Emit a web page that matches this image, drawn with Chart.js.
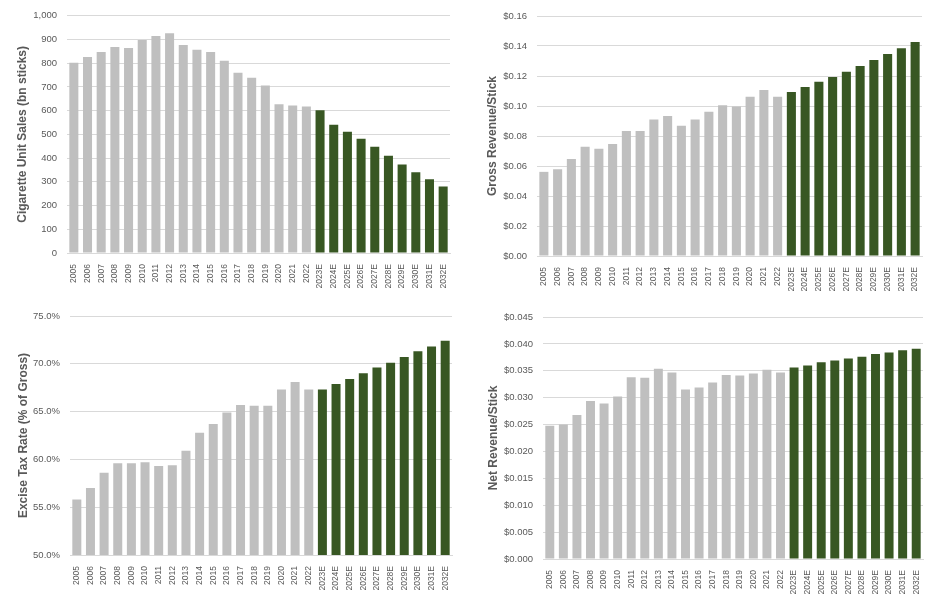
<!DOCTYPE html>
<html>
<head>
<meta charset="utf-8">
<script src="https://cdn.jsdelivr.net/npm/chart.js@4.4.0/dist/chart.umd.min.js"></script>
<style>
  body { margin: 0; background: #fff; }
  .box { position: absolute; }
</style>
</head>
<body>
<div class="box" style="left:0;top:0;width:465px;height:300px"><canvas id="c1"></canvas></div>
<div class="box" style="left:470px;top:0;width:461px;height:300px"><canvas id="c2"></canvas></div>
<div class="box" style="left:0;top:300px;width:465px;height:307px"><canvas id="c3"></canvas></div>
<div class="box" style="left:470px;top:300px;width:461px;height:307px"><canvas id="c4"></canvas></div>
<script>
const years = ["2005","2006","2007","2008","2009","2010","2011","2012","2013","2014",
  "2015","2016","2017","2018","2019","2020","2021","2022",
  "2023E","2024E","2025E","2026E","2027E","2028E","2029E","2030E","2031E","2032E"];

// bn sticks
const unitSales = [802, 826, 847, 868, 864, 898, 914, 926, 877, 856,
  847, 810, 760, 739, 706, 627, 622, 617,
  602, 540, 511, 481, 448, 410, 373, 340, 311, 280];

// $ per stick
const grossRev = [0.0561, 0.0579, 0.0646, 0.0728, 0.0715, 0.0746, 0.0834, 0.0834, 0.0910, 0.0934,
  0.0868, 0.0910, 0.0961, 0.1005, 0.0996, 0.1061, 0.1107, 0.1061,
  0.1094, 0.1127, 0.1161, 0.1194, 0.1229, 0.1267, 0.1307, 0.1347, 0.1385, 0.1427];

// % of gross
const exciseRate = [55.8, 57.0, 58.6, 59.6, 59.6, 59.7, 59.3, 59.4, 60.9, 62.8,
  63.7, 64.9, 65.7, 65.6, 65.6, 67.3, 68.1, 67.3,
  67.3, 67.9, 68.4, 69.0, 69.6, 70.1, 70.7, 71.3, 71.8, 72.4];

// $ per stick
const netRev = [0.0248, 0.0250, 0.0268, 0.0294, 0.0289, 0.0302, 0.0338, 0.0337, 0.0354, 0.0347,
  0.0315, 0.0319, 0.0328, 0.0342, 0.0341, 0.0345, 0.0352, 0.0347,
  0.0356, 0.0360, 0.0366, 0.0369, 0.0373, 0.0376, 0.0381, 0.0384, 0.0388, 0.0391];

const GRAY = "#BFBFBF";
const GREEN = "#385723";
const barColors = years.map(y => y.endsWith("E") ? GREEN : GRAY);

function makeChart(id, values, opts) {
  const ctx = document.getElementById(id).getContext("2d");
  return new Chart(ctx, {
    type: "bar",
    data: {
      labels: years,
      datasets: [{
        data: values,
        backgroundColor: barColors,
        borderWidth: 0,
        categoryPercentage: 1.0,
        barPercentage: 0.66
      }]
    },
    options: {
      responsive: true,
      maintainAspectRatio: false,
      animation: false,
      layout: { padding: { top: opts.padTop, right: opts.padRight, left: 0, bottom: 0 } },
      plugins: { legend: { display: false }, tooltip: { enabled: false } },
      scales: {
        x: {
          grid: { display: false },
          border: { color: "#D9D9D9", width: 1 },
          ticks: {
            color: "#595959",
            font: { family: "Liberation Sans", size: 8.5 },
            maxRotation: 90, minRotation: 90,
            autoSkip: false, padding: 3
          },
          afterFit: s => { s.height = opts.xHeight; }
        },
        y: {
          min: opts.min, max: opts.max,
          border: { display: false },
          grid: { color: "#D9D9D9", drawTicks: false },
          ticks: {
            stepSize: opts.step,
            color: "#595959",
            font: { family: "Liberation Sans", size: 9.5 },
            padding: 10,
            callback: opts.fmt
          },
          title: {
            display: true,
            text: opts.title,
            color: "#595959",
            font: { family: "Liberation Sans", size: 12, weight: "bold" },
            padding: { top: opts.titlePad, bottom: 0 }
          },
          afterFit: s => { s.width = opts.yWidth; }
        }
      }
    }
  });
}

makeChart("c1", unitSales, {
  title: "Cigarette Unit Sales (bn sticks)",
  min: 0, max: 1000, step: 100,
  fmt: v => v.toLocaleString("en-US"),
  padTop: 13, padRight: 15, xHeight: 47, yWidth: 67, titlePad: 15
});

makeChart("c2", grossRev, {
  title: "Gross Revenue/Stick",
  min: 0, max: 0.16, step: 0.02,
  fmt: v => "$" + v.toFixed(2),
  padTop: 16, padRight: 9, xHeight: 44, yWidth: 67, titlePad: 15
});

makeChart("c3", exciseRate, {
  title: "Excise Tax Rate (% of Gross)",
  min: 50, max: 75, step: 5,
  fmt: v => v.toFixed(1) + "%",
  padTop: 16, padRight: 13, xHeight: 52, yWidth: 70, titlePad: 16
});

makeChart("c4", netRev, {
  title: "Net Revenue/Stick",
  min: 0, max: 0.045, step: 0.005,
  fmt: v => "$" + v.toFixed(3),
  padTop: 17, padRight: 8, xHeight: 48, yWidth: 73, titlePad: 16
});
</script>
</body>
</html>
